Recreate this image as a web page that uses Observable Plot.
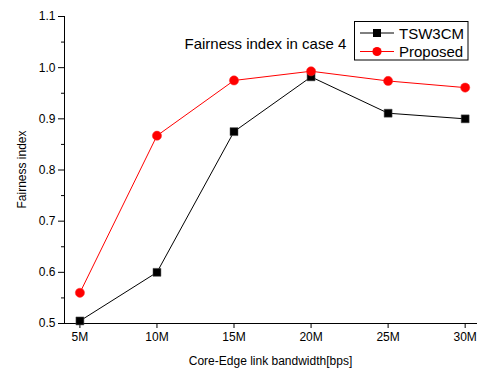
<!DOCTYPE html>
<html>
<head>
<meta charset="utf-8">
<script src="https://cdn.jsdelivr.net/npm/d3@7"></script>
<script src="https://cdn.jsdelivr.net/npm/@observablehq/plot@0.6"></script>
<style>
  html, body { margin: 0; padding: 0; background: #fff; }
  #chart { position: relative; width: 477px; height: 371px; }
</style>
</head>
<body>
<div id="chart"></div>
<script>
const bandwidth = [5, 10, 15, 20, 25, 30];
const xTickLabels = ["5M", "10M", "15M", "20M", "25M", "30M"];
const tsw3cm = [0.505, 0.600, 0.875, 0.982, 0.911, 0.900];
const proposed = [0.560, 0.867, 0.975, 0.993, 0.974, 0.961];
const yTicks = [0.5, 0.6, 0.7, 0.8, 0.9, 1.0, 1.1];
const yMinorTicks = [0.55, 0.65, 0.75, 0.85, 0.95, 1.05];
const seriesNames = ["TSW3CM", "Proposed"];
const seriesColors = ["#000000", "#ff0000"];
const titleText = "Fairness index in case 4";

const rows = [];
bandwidth.forEach((b, i) => {
  rows.push({x: b, y: tsw3cm[i], s: seriesNames[0]});
  rows.push({x: b, y: proposed[i], s: seriesNames[1]});
});
const t = rows.filter(d => d.s === seriesNames[0]);
const p = rows.filter(d => d.s === seriesNames[1]);

const font = "Arial, 'Liberation Sans', sans-serif";

const plot = Plot.plot({
  width: 477,
  height: 371,
  marginLeft: 64,
  marginRight: 0,
  marginTop: 16,
  marginBottom: 48,
  style: {fontFamily: font, fontSize: "12px", color: "#000", background: "#fff", overflow: "visible"},
  x: {domain: [4, 30.8]},
  y: {domain: [0.5, 1.1]},
  marks: [
    Plot.axisX({ticks: bandwidth, tickFormat: (d) => xTickLabels[bandwidth.indexOf(d)], tickSize: 5, tickPadding: 4, fontSize: 12, label: null}),
    Plot.axisY({ticks: yTicks, tickFormat: d3.format(".1f"), tickSize: 6, tickPadding: 3, fontSize: 12, label: null}),
    Plot.axisY({ticks: yMinorTicks, tickSize: 3, text: null, label: null}),
    Plot.ruleY([0.5], {stroke: "#000", strokeWidth: 1}),
    Plot.ruleX([4], {stroke: "#000", strokeWidth: 1}),
    Plot.line(t, {x: "x", y: "y", stroke: seriesColors[0], strokeWidth: 1}),
    Plot.line(p, {x: "x", y: "y", stroke: seriesColors[1], strokeWidth: 1}),
    Plot.dot(t, {x: "x", y: "y", symbol: "square", r: 4.5, fill: seriesColors[0], stroke: "#555", strokeWidth: 0.5}),
    Plot.dot(p, {x: "x", y: "y", symbol: "circle", r: 4.6, fill: seriesColors[1], stroke: "#ff3030", strokeWidth: 0.5}),
    Plot.text([titleText], {frameAnchor: "top-left", dx: 120, dy: 22, text: d => d, fontSize: 15, textAnchor: "start", fill: "#000"})
  ]
});
document.getElementById("chart").appendChild(plot);

const svg = d3.select(plot);
// axis labels
svg.append("text")
  .attr("x", 270.5).attr("y", 365)
  .attr("text-anchor", "middle")
  .attr("font-family", font).attr("font-size", 12).attr("fill", "#000")
  .text("Core-Edge link bandwidth[bps]");
svg.append("text")
  .attr("transform", "translate(26,169.5) rotate(-90)")
  .attr("text-anchor", "middle")
  .attr("font-family", font).attr("font-size", 12).attr("fill", "#000")
  .text("Fairness index");

// legend
const lg = svg.append("g").attr("font-family", font).attr("font-size", 15).attr("text-anchor", "start");
lg.append("rect").attr("x", 354.5).attr("y", 21.5).attr("width", 113.5).attr("height", 38.5)
  .attr("fill", "#fff").attr("stroke", "#000").attr("stroke-width", 1);
const rowY = [33, 51.5];
seriesNames.forEach((name, i) => {
  lg.append("line").attr("x1", 360).attr("x2", 394).attr("y1", rowY[i]).attr("y2", rowY[i])
    .attr("stroke", seriesColors[i]).attr("stroke-width", 1);
  if (i === 0) {
    lg.append("rect").attr("x", 373).attr("y", rowY[i] - 4).attr("width", 8).attr("height", 8).attr("fill", seriesColors[i]);
  } else {
    lg.append("circle").attr("cx", 377).attr("cy", rowY[i]).attr("r", 4.6).attr("fill", seriesColors[i]);
  }
  lg.append("text").attr("x", 399).attr("y", rowY[i] + 5.5).attr("text-anchor", "start").attr("fill", "#000").text(name);
});
</script>
</body>
</html>
